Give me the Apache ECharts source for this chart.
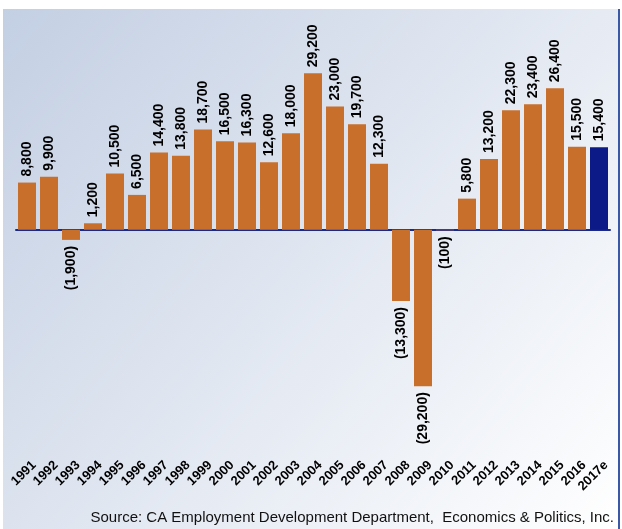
<!DOCTYPE html>
<html>
<head>
<meta charset="utf-8">
<style>
  html, body { margin: 0; padding: 0; background: #fff; }
  #chart { width: 622px; height: 529px; }
</style>
<script src="https://cdn.jsdelivr.net/npm/echarts@6/dist/echarts.min.js"></script>
</head>
<body>
<div id="chart"></div>
<script>
// years along the bottom
var years = ['1991', '1992', '1993', '1994', '1995', '1996', '1997', '1998', '1999',
  '2000', '2001', '2002', '2003', '2004', '2005', '2006', '2007', '2008', '2009',
  '2010', '2011', '2012', '2013', '2014', '2015', '2016', '2017e'];
// yearly job change
var jobs = [8800, 9900, -1900, 1200, 10500, 6500, 14400, 13800, 18700,
  16500, 16300, 12600, 18000, 29200, 23000, 19700, 12300, -13300, -29200,
  -100, 5800, 13200, 22300, 23400, 26400, 15500, 15400];
// last one is an estimate
var estimateYear = '2017e';

var orange = '#C96F2C';
var navy = '#0B1A86';
var labelFont = 'Liberation Sans, Arial, sans-serif';

function fmt(v) {
  var s = Math.abs(v).toLocaleString('en-US');
  return v < 0 ? '(' + s + ')' : s;
}

var barData = jobs.map(function (v, i) {
  var neg = v < 0;
  return {
    value: v,
    itemStyle: { color: years[i] === estimateYear ? navy : orange },
    label: {
      position: neg ? 'bottom' : 'top',
      align: neg ? 'right' : 'left'
    }
  };
});

var myChart = echarts.init(document.getElementById('chart'));

var option = {
  animation: false,
  graphic: [
    {
      type: 'rect',
      shape: { x: 3, y: 9, width: 616, height: 520 },
      style: {
        fill: new echarts.graphic.LinearGradient(0, 0, 1, 1, [
          { offset: 0, color: '#C3CFE3' },
          { offset: 1, color: '#FFFFFF' }
        ])
      },
      z: -10
    },
    {
      type: 'rect',
      shape: { x: 618, y: 9, width: 2, height: 520 },
      style: { fill: '#3A58A8' },
      z: -9
    },
    {
      type: 'text',
      right: 8,
      top: 510,
      style: {
        text: 'Source: CA Employment Development Department,  Economics & Politics, Inc.',
        font: '15px Liberation Sans, Arial, sans-serif',
        fill: '#111'
      }
    }
  ],
  grid: [
    { left: 16, width: 594, top: 69, height: 375 },
    { left: 23, width: 594, top: 69, height: 386 }
  ],
  xAxis: [
    {
      type: 'category',
      gridIndex: 0,
      data: years,
      axisLine: { onZero: true, lineStyle: { color: '#1A2A8C', width: 2 } },
      axisTick: { show: false },
      axisLabel: { show: false }
    },
    {
      type: 'category',
      gridIndex: 1,
      data: years,
      axisLine: { show: false },
      axisTick: { show: false },
      axisLabel: {
        rotate: 45,
        margin: 8,
        interval: 0,
        color: '#000',
        fontWeight: 'bold',
        fontSize: 13,
        fontFamily: labelFont
      }
    }
  ],
  yAxis: [
    { type: 'value', gridIndex: 0, min: -40000, max: 30000, show: false, splitLine: { show: false } },
    { type: 'value', gridIndex: 1, show: false, splitLine: { show: false } }
  ],
  series: [{
    name: 'Jobs',
    type: 'bar',
    xAxisIndex: 0,
    yAxisIndex: 0,
    barWidth: 18,
    data: barData,
    label: {
      show: true,
      rotate: 90,
      verticalAlign: 'middle',
      distance: 6,
      color: '#000',
      fontSize: 14,
      fontWeight: 'bold',
      fontFamily: labelFont,
      formatter: function (p) { return fmt(p.value); }
    }
  }]
};
myChart.setOption(option);
</script>
</body>
</html>
